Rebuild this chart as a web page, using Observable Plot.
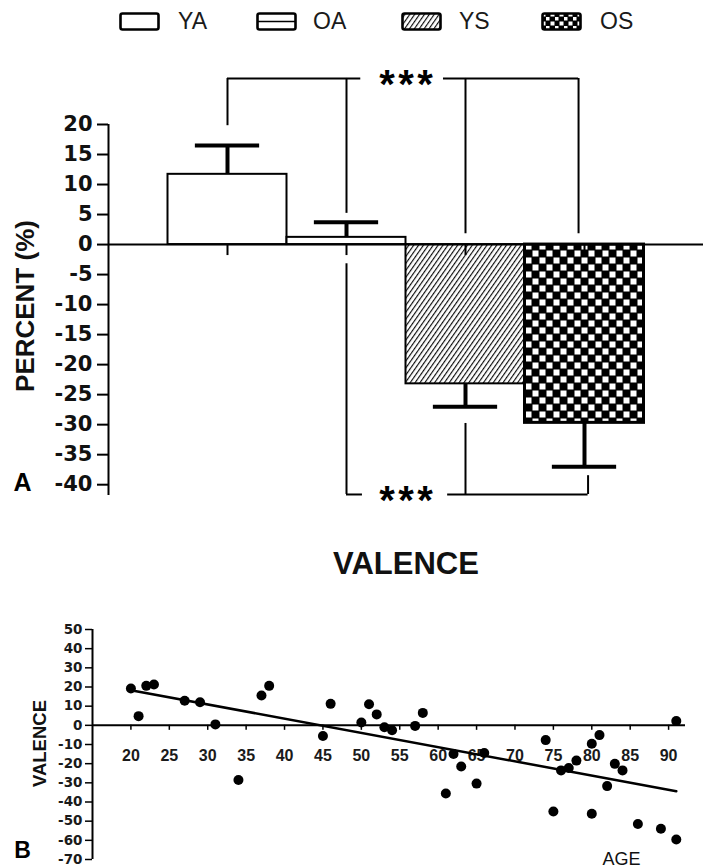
<!DOCTYPE html>
<html>
<head>
<meta charset="utf-8">
<script src="https://cdn.jsdelivr.net/npm/d3@7"></script>
<script src="https://cdn.jsdelivr.net/npm/@observablehq/plot@0.6"></script>
<style>
  body { margin: 0; background: #fff; font-family: "Liberation Sans", Arial, sans-serif; }
  #root { position: relative; width: 717px; height: 867px; overflow: hidden; background: #fff; }
  .abs { position: absolute; }
  .leg-text { position: absolute; font-size: 23px; line-height: 23px; color: #1a1a1a; font-family: "Liberation Sans", Arial, sans-serif; }
  .title { position: absolute; font-size: 31px; line-height: 31px; font-weight: bold; color: #111; text-align: center; }
</style>
</head>
<body>
<svg width="0" height="0" style="position:absolute">
  <defs>
    <pattern id="hatch" width="4" height="4" patternUnits="userSpaceOnUse" patternTransform="rotate(35)">
      <rect width="4" height="4" fill="#fff"/>
      <line x1="0.6" y1="0" x2="0.6" y2="4" stroke="#000" stroke-width="1.1"/>
    </pattern>
    <pattern id="checker" width="14" height="14" patternUnits="userSpaceOnUse">
      <rect width="14" height="14" fill="#000"/>
      <rect x="0.5" y="0.5" width="6" height="6" fill="#fff"/>
      <rect x="7.5" y="7.5" width="6" height="6" fill="#fff"/>
    </pattern>
    <pattern id="checkerSmall" width="9" height="9" patternUnits="userSpaceOnUse">
      <rect width="9" height="9" fill="#000"/>
      <rect x="0.5" y="0.5" width="4" height="4" fill="#fff"/>
      <rect x="5" y="5" width="3.5" height="3.5" fill="#fff"/>
    </pattern>
  </defs>
</svg>
<div id="root"></div>
<script>
// ---------- Panel A data ----------
const groups = ["YA", "OA", "YS", "OS"];
const groupPos = [1, 2, 3, 4];
const means = [11.7, 1.2, -23.2, -29.7];
const errTops = [16.5, 3.7, -27, -37];
const groupFills = ["#fff", "#fff", "url(#hatch)", "url(#checker)"];
const groupStrokeW = [2, 2, 2, 3];
const yTicksA = [-40, -35, -30, -25, -20, -15, -10, -5, 0, 5, 10, 15, 20];
const yDomainA = [-41.8, 20];
const xDomainA = [0, 5];
const capHalf = 0.27;

// significance brackets (annotation values in data units)
const sigVX  = [1, 2, 3, 3.95, 2, 3, 4.03];
const sigVY1 = [27.67, 27.67, 27.67, 27.67, -3.2, -29.8, -38.5];
const sigVY2 = [19.8, 5.2, 1.8, 1.8, -41.63, -41.63, -41.63];
const sigHX1 = [1, 2.815, 2, 2.85];
const sigHX2 = [2.12, 3.95, 2.134, 4.03];
const sigHY  = [27.67, 27.67, -41.63, -41.63];
const sigTextX = [2.5, 2.5];
const sigTextY = [27.67, -41.63];
const sigText = ["*\u200A*\u200A*", "*\u200A*\u200A*"];

// ---------- Panel B data ----------
const ages = [20, 21, 22, 23, 27, 29, 31, 34, 37, 38, 45, 46,
  50, 51, 52, 53, 54, 57, 58,
  61, 62, 63, 65, 66,
  74, 75, 76, 77, 78, 80, 80, 81, 82, 83, 84, 86, 89, 91, 91];
const valences = [19.2, 4.8, 20.6, 21.3, 12.8, 12, 0.5, -28.5, 15.6, 20.6, -5.6, 11.2,
  1.5, 11, 5.7, -1, -2.6, -0.3, 6.5,
  -35.6, -15, -21.5, -30.4, -14.4,
  -7.7, -45, -23.5, -22.3, -18.4, -9.6, -46.1, -5.1, -31.7, -20.1, -23.5, -51.5, -54, 2.2, -59.6];
const xTicksB = [20, 25, 30, 35, 40, 45, 50, 55, 60, 65, 70, 75, 80, 85, 90];
const yTicksB = [-70, -60, -50, -40, -30, -20, -10, 0, 10, 20, 30, 40, 50];
const xDomainB = [15, 92.2];
const yDomainB = [-70, 50];

const barData = groups.map((g, i) => ({group: g, pos: groupPos[i], mean: means[i], err: errTops[i], sw: groupStrokeW[i]}));
const vData = sigVX.map((x, i) => ({x, y1: sigVY1[i], y2: sigVY2[i]}));
const hData = sigHX1.map((x1, i) => ({x1, x2: sigHX2[i], y: sigHY[i]}));
const tData = sigTextX.map((x, i) => ({x, y: sigTextY[i], t: sigText[i]}));
const pts = ages.map((a, i) => ({age: a, val: valences[i]}));

const root = document.getElementById("root");

// ---------- Legend ----------
const legendItems = [
  {label: "YA", boxX: 120, textX: 178, kind: "plain"},
  {label: "OA", boxX: 257, textX: 313, kind: "lines"},
  {label: "YS", boxX: 402, textX: 459, kind: "hatch"},
  {label: "OS", boxX: 542, textX: 600, kind: "checker"}
];
legendItems.forEach(it => {
  const ns = "http://www.w3.org/2000/svg";
  const s = document.createElementNS(ns, "svg");
  s.setAttribute("width", 42); s.setAttribute("height", 20);
  s.setAttribute("class", "abs");
  s.style.left = (it.boxX - 1) + "px"; s.style.top = "12px";
  const fill = it.kind === "hatch" ? "url(#hatch)" : it.kind === "checker" ? "url(#checkerSmall)" : "#fff";
  const r = document.createElementNS(ns, "rect");
  r.setAttribute("x", 1.5); r.setAttribute("y", 1.5); r.setAttribute("width", 38); r.setAttribute("height", 16);
  r.setAttribute("rx", 2); r.setAttribute("fill", fill); r.setAttribute("stroke", "#000"); r.setAttribute("stroke-width", 2.6);
  s.appendChild(r);
  if (it.kind === "lines") {
    const l = document.createElementNS(ns, "line");
    l.setAttribute("x1", 2); l.setAttribute("x2", 39); l.setAttribute("y1", 9.5); l.setAttribute("y2", 9.5);
    l.setAttribute("stroke", "#000"); l.setAttribute("stroke-width", 1.6);
    s.appendChild(l);
  }
  root.appendChild(s);
  const t = document.createElement("div");
  t.className = "leg-text";
  t.textContent = it.label;
  t.style.left = it.textX + "px"; t.style.top = "10px";
  root.appendChild(t);
});

// ---------- Panel A ----------
const plotA = Plot.plot({
  width: 717, height: 470,
  marginLeft: 108, marginRight: 14, marginTop: 84, marginBottom: 15,
  x: {domain: xDomainA, axis: null},
  y: {domain: yDomainA, axis: null},
  color: {type: "ordinal", domain: groups, range: groupFills},
  style: {background: "transparent", overflow: "visible", color: "#000"},
  marks: [
    Plot.rect(barData, {x1: d => d.pos - 0.5, x2: d => d.pos + 0.5, y1: 0, y2: "mean", fill: "group", stroke: "#000", strokeWidth: "sw"}),
    Plot.ruleY([0], {stroke: "#000", strokeWidth: 2}),
    Plot.ruleX(groupPos, {x: d => d, y1: 0, y2: 0, insetBottom: -11, stroke: "#000", strokeWidth: 2}),
    Plot.ruleX(barData, {x: "pos", y1: "mean", y2: "err", stroke: "#000", strokeWidth: 4}),
    Plot.ruleY(barData, {y: "err", x1: d => d.pos - capHalf, x2: d => d.pos + capHalf, stroke: "#000", strokeWidth: 4}),
    Plot.ruleX(vData, {x: "x", y1: "y1", y2: "y2", stroke: "#000", strokeWidth: 2}),
    Plot.ruleY(hData, {y: "y", x1: "x1", x2: "x2", stroke: "#000", strokeWidth: 2}),
    Plot.text(tData, {x: "x", y: "y", text: "t", lineAnchor: "bottom", dy: 20, fontSize: 40, fontWeight: "bold", fontFamily: "Liberation Sans", fill: "#000"}),
    Plot.ruleX([xDomainA[0]], {y1: yDomainA[0], y2: yTicksA[yTicksA.length - 1], stroke: "#000", strokeWidth: 2}),
    Plot.axisY(yTicksA, {tickSize: 11, tickPadding: 5, strokeWidth: 2, fontSize: 21, fontWeight: "bold", fontFamily: "DejaVu Sans", tickFormat: d => String(d), label: null, fill: "#111"}),
    Plot.text(["PERCENT (%)"], {frameAnchor: "left", textAnchor: "middle", rotate: -90, dx: -83, dy: -4, fontSize: 26, fontWeight: "bold", fontFamily: "Liberation Sans", fill: "#111"}),
    Plot.text(["A"], {frameAnchor: "bottom-left", textAnchor: "middle", dx: -86, dy: -5, lineAnchor: "bottom", fontSize: 25, fontWeight: "bold", fontFamily: "Liberation Sans", fill: "#000"})
  ]
});
plotA.classList.add("abs");
plotA.style.left = "0px"; plotA.style.top = "40px";
root.appendChild(plotA);

// ---------- Title ----------
const title = document.createElement("div");
title.className = "title";
title.textContent = "VALENCE";
title.style.left = "306px"; title.style.width = "200px"; title.style.top = "548px";
root.appendChild(title);

// ---------- Panel B ----------
const plotB = Plot.plot({
  width: 717, height: 267,
  marginLeft: 92, marginRight: 32, marginTop: 29, marginBottom: 8,
  x: {domain: xDomainB, axis: null},
  y: {domain: yDomainB, axis: null},
  style: {background: "transparent", overflow: "visible", color: "#000"},
  marks: [
    Plot.ruleY([0], {stroke: "#000", strokeWidth: 2}),
    Plot.ruleX(xTicksB, {x: d => d, y1: 0, y2: 0, insetBottom: -5, stroke: "#000", strokeWidth: 1.5}),
    Plot.text(xTicksB, {x: d => d, y: 0, text: d => String(d), dy: 36, lineAnchor: "bottom", fontSize: 16, fontWeight: "bold", fontFamily: "Liberation Sans", fill: "#1a1a1a"}),
    Plot.ruleX([xDomainB[0]], {y1: yDomainB[0], y2: yDomainB[1], stroke: "#000", strokeWidth: 2}),
    Plot.axisY(yTicksB, {tickSize: 7, tickPadding: 3, strokeWidth: 1.5, fontSize: 13.5, fontWeight: "bold", fontFamily: "DejaVu Sans", tickFormat: d => String(d), label: null, fill: "#1a1a1a"}),
    Plot.linearRegressionY(pts, {x: "age", y: "val", stroke: "#000", strokeWidth: 2.5, ci: 0}),
    Plot.dot(pts, {x: "age", y: "val", r: 5, fill: "#000", stroke: "none"}),
    Plot.text(["VALENCE"], {frameAnchor: "left", textAnchor: "middle", rotate: -90, dx: -52, dy: -1, fontSize: 18.5, fontWeight: "bold", fontFamily: "Liberation Sans", fill: "#111"}),
    Plot.text(["AGE"], {frameAnchor: "bottom-right", textAnchor: "middle", dx: -64, dy: 5, lineAnchor: "bottom", fontSize: 18, fontFamily: "Liberation Sans", fill: "#111"}),
    Plot.text(["B"], {frameAnchor: "bottom-left", textAnchor: "middle", dx: -70, dy: -2, lineAnchor: "bottom", fontSize: 23, fontWeight: "bold", fontFamily: "Liberation Sans", fill: "#000"})
  ]
});
plotB.classList.add("abs");
plotB.style.left = "0px"; plotB.style.top = "600px";
root.appendChild(plotB);
</script>
</body>
</html>
